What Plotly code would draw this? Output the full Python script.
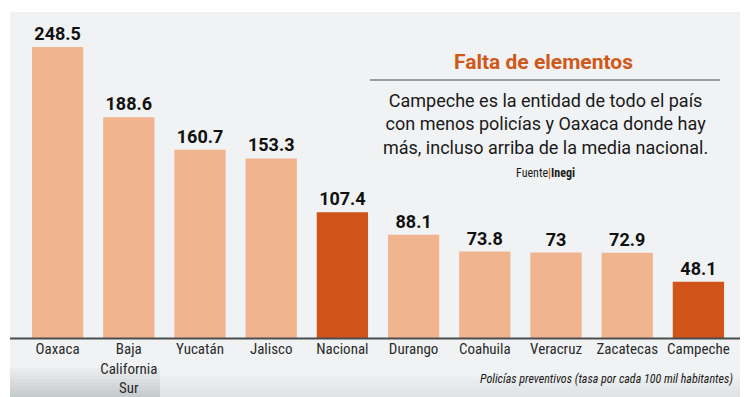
import plotly.graph_objects as go

categories = ["Oaxaca", "Baja<br>California<br>Sur", "Yucatán", "Jalisco", "Nacional",
              "Durango", "Coahuila", "Veracruz", "Zacatecas", "Campeche"]
values = [248.5, 188.6, 160.7, 153.3, 107.4, 88.1, 73.8, 73, 72.9, 48.1]
highlight = [False, False, False, False, True, False, False, False, False, True]

LIGHT = "#f0b48f"
DARK = "#d05417"
colors = [DARK if h else LIGHT for h in highlight]
NARROW = "Liberation Sans Narrow, Roboto Condensed, Arial Narrow, Roboto, sans-serif"

W, H = 750, 397
ML, MR, MT, MB = 22, 16, 20, 59
PW, PH = W - ML - MR, H - MT - MB

def px(x):
    return (x - ML) / PW
def py(y):
    return (H - MB - y) / PH

fig = go.Figure()
fig.add_trace(go.Bar(
    x=categories, y=values,
    marker=dict(color=colors, line=dict(width=0)),
    text=[f"{v:g}" for v in values],
    textposition="outside",
    textfont=dict(family="Roboto, sans-serif", size=18, color="#111111", weight="bold"),
    cliponaxis=False,
    hoverinfo="skip",
))

shapes = [
    dict(type="rect", xref="paper", yref="paper", x0=px(10), x1=px(740), y0=py(H), y1=py(12),
         fillcolor="#f0f2f3", line=dict(width=0), layer="below"),
    dict(type="line", xref="paper", yref="paper", x0=px(370), x1=px(720), y0=py(80), y1=py(80),
         line=dict(color="#9a9ea2", width=2)),
    dict(type="line", xref="paper", yref="paper", x0=px(10), x1=px(740), y0=py(338.5), y1=py(338.5),
         line=dict(color="#4a4d50", width=2)),
]
for i in range(8):
    y0 = 368 + i * 3.7
    shapes.append(dict(type="rect", xref="paper", yref="paper", x0=px(10), x1=px(160),
                       y0=py(y0 + 3.7), y1=py(y0), fillcolor="#7f868d",
                       opacity=0.05 + i * 0.045, line=dict(width=0), layer="below"))
for i in range(6):
    y0 = 375 + i * 3.7
    shapes.append(dict(type="rect", xref="paper", yref="paper", x0=px(160), x1=px(740),
                       y0=py(y0 + 3.7), y1=py(y0), fillcolor="#9aa0a6",
                       opacity=0.03 + i * 0.03, line=dict(width=0), layer="below"))

annotations = [
    dict(text="<b>Falta de elementos</b>", x=px(543), y=py(62), xref="paper", yref="paper",
         showarrow=False, font=dict(family="Roboto, sans-serif", size=21, color="#d0581a"),
         xanchor="center", yanchor="middle"),
    dict(text="Campeche es la entidad de todo el país<br>con menos policías y Oaxaca donde hay<br>más, incluso arriba de la media nacional.",
         x=px(545), y=py(124), xref="paper", yref="paper", showarrow=False,
         font=dict(family="Roboto, sans-serif", size=18, color="#1a1a1a"),
         xanchor="center", yanchor="middle", align="center"),
    dict(text="Fuente<span style='color:#d0581a'><b>|</b></span><b>Inegi</b>",
         x=px(545), y=py(173), xref="paper", yref="paper", showarrow=False,
         font=dict(family=NARROW, size=12, color="#1a1a1a"),
         xanchor="center", yanchor="middle"),
    dict(text="<i>Policías preventivos (tasa por cada 100 mil habitantes)</i>",
         x=px(735), y=py(379), xref="paper", yref="paper", showarrow=False,
         font=dict(family=NARROW, size=12, color="#1a1a1a"),
         xanchor="right", yanchor="middle"),
]

fig.update_layout(
    width=W, height=H,
    margin=dict(l=ML, r=MR, t=MT, b=MB),
    paper_bgcolor="white",
    plot_bgcolor="rgba(0,0,0,0)",
    bargap=0.28,
    showlegend=False,
    shapes=shapes,
    annotations=annotations,
    xaxis=dict(showgrid=False, showline=False, ticks="", zeroline=False, automargin=False,
               tickfont=dict(family=NARROW, size=15, color="#2a2a2a"),
               fixedrange=True),
    yaxis=dict(range=[0, PH / 1.171], showgrid=False, showline=False, showticklabels=False,
               zeroline=False, ticks="", fixedrange=True, automargin=False),
)

fig.write_html("out.html", config={"displayModeBar": False},
               post_script="document.body.style.margin='0';document.body.style.overflow='hidden';")
